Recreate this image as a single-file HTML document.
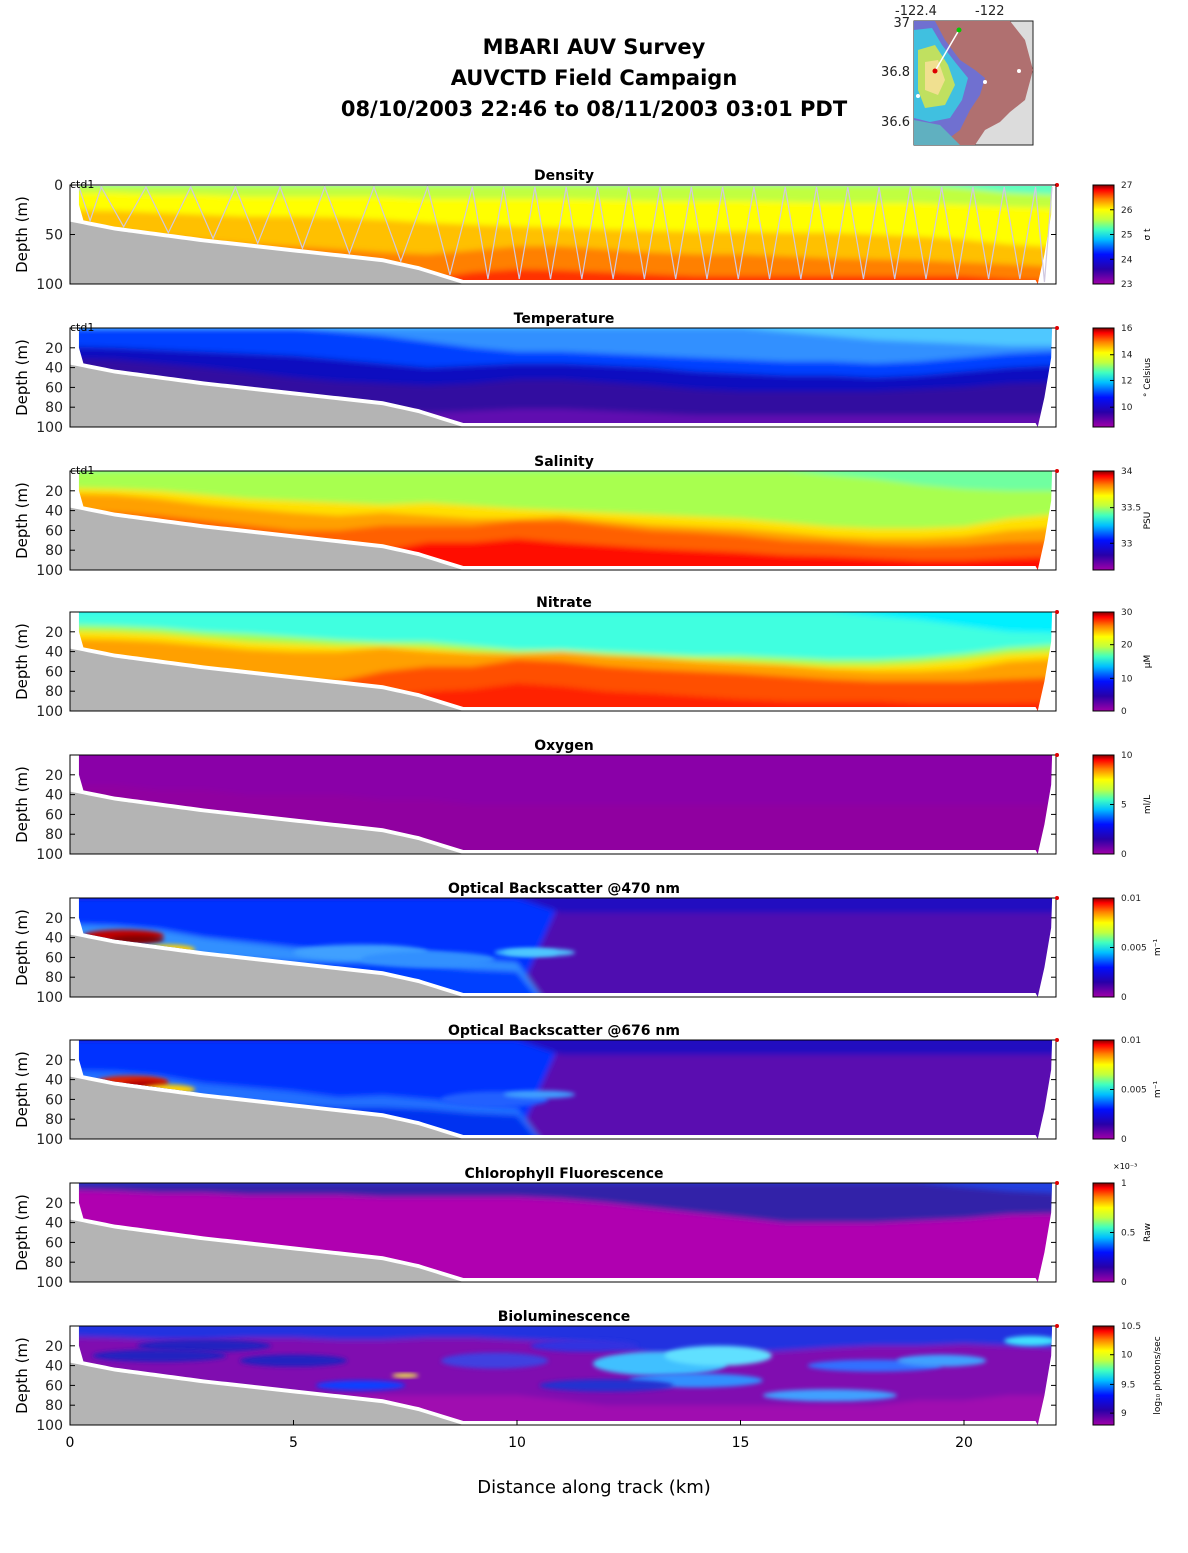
<!DOCTYPE html>
<html><head><meta charset="utf-8"><style>
body{margin:0;background:#fff;}
svg text{font-family:"DejaVu Sans","Liberation Sans",sans-serif;}
</style></head><body>
<svg id="fig" width="1188" height="1548" xmlns="http://www.w3.org/2000/svg">
<defs>
<linearGradient id="cbgrad" x1="0" y1="1" x2="0" y2="0">
<stop offset="0" stop-color="#a000a8"/><stop offset="0.15" stop-color="#2800a8"/><stop offset="0.3" stop-color="#0010ff"/><stop offset="0.45" stop-color="#00c0ff"/><stop offset="0.55" stop-color="#40ffc0"/><stop offset="0.65" stop-color="#c0ff40"/><stop offset="0.75" stop-color="#ffff00"/><stop offset="0.86" stop-color="#ff8000"/><stop offset="0.95" stop-color="#ff0000"/><stop offset="1" stop-color="#800000"/>
</linearGradient>
<filter id="blur" x="-10%" y="-10%" width="120%" height="120%"><feGaussianBlur stdDeviation="3"/></filter>
<filter id="blur2" x="-20%" y="-50%" width="140%" height="200%"><feGaussianBlur stdDeviation="2"/></filter>
</defs>
<g font-weight="bold" font-size="21" text-anchor="middle">
<text x="594" y="54">MBARI AUV Survey</text>
<text x="594" y="85">AUVCTD Field Campaign</text>
<text x="594" y="116">08/10/2003 22:46  to 08/11/2003 03:01 PDT</text>
</g>
<g id="map">
<rect x="914" y="21" width="119" height="124" fill="#dcdcdc" stroke="#222"/>
<polygon points="935,21 1010,21 1025,40 1033,70 1025,100 1010,112 1000,122 985,130 975,145 950,145 940,120 920,110 914,80 914,21" fill="#b07070"/>
<polygon points="914,21 935,21 945,40 960,60 975,70 985,78 980,95 970,110 960,130 940,145 914,145" fill="#7070d0"/>
<polygon points="914,30 932,28 942,45 955,62 968,78 962,100 950,118 930,122 914,118" fill="#40c0e0"/>
<polygon points="918,50 935,45 948,65 955,85 945,105 925,108 918,90" fill="#c0e060"/>
<polygon points="925,62 938,60 945,80 938,95 925,90" fill="#f0e090"/>
<polygon points="914,120 940,125 960,145 914,145" fill="#60b0c0"/>
<line x1="935" y1="71" x2="959" y2="30" stroke="#fff" stroke-width="1.5"/>
<circle cx="959" cy="30" r="2.5" fill="#0c0"/><circle cx="935" cy="71" r="2.5" fill="#d00"/>
<circle cx="1019" cy="71" r="2" fill="#fff"/><circle cx="985" cy="82" r="2" fill="#fff"/><circle cx="918" cy="96" r="2" fill="#fff"/>
<g font-size="13" fill="#222"><text x="895" y="15">-122.4</text><text x="975" y="15">-122</text>
<text x="910" y="27" text-anchor="end">37</text><text x="910" y="76" text-anchor="end">36.8</text><text x="910" y="126" text-anchor="end">36.6</text></g>
</g>
<g id="panels"></g>
<g id="xaxis" font-size="14" text-anchor="middle"></g>
<text x="594" y="1493" font-size="18" text-anchor="middle">Distance along track (km)</text>
</svg>
<script>
// ---- data ----
const kmGrid = [0,1,2,3,4,5,6,7,8,9,10,11,12,13,14,15,16,17,18,19,20,21,22];
const seafloorKm = [0,1,2,3,4,5,6,7,7.8,8.8,22];
const seafloorDepth = [37,46,52,58,63,68,73,78,86,100,100];
const dataTopKm = [0.2,0.3,0.4,21.97];
const dataRightKm = [21.97,21.95,21.8,21.65];
const dataRightDepth = [2,30,70,100];
const yoTopKm = [0.7,1.7,2.7,3.7,4.7,5.7,6.8,8.0,9.0,9.7,10.4,11.1,11.8,12.5,13.2,13.9,14.6,15.3,16.0,16.7,17.4,18.1,18.8,19.5,20.2,20.9,21.6];

const titles = ["Density","Temperature","Salinity","Nitrate","Oxygen","Optical Backscatter @470 nm","Optical Backscatter @676 nm","Chlorophyll Fluorescence","Bioluminescence"];
const units = ["σ t","° Celsius","PSU","μM","ml/L","m⁻¹","m⁻¹","Raw","log₁₀ photons/sec"];
const cbTicks = [["23","24","25","26","27"],["10","12","14","16"],["33","33.5","34"],["0","10","20","30"],["0","5","10"],["0","0.005","0.01"],["0","0.005","0.01"],["0","0.5","1"],["9","9.5","10","10.5"]];
const cbTickFrac = [[0,.25,.5,.75,1],[.2,.47,.73,1],[.27,.63,1],[0,.33,.67,1],[0,.5,1],[0,.5,1],[0,.5,1],[0,.5,1],[.12,.41,.71,1]];
const panelTops = [185,328,471,612,755,898,1040,1183,1326];

const layers = [
 ["#c0ff40",[["#ffff00","b",[8,8,10,10,12,12,12,12,14,14,14,14,15,16,16,16,17,18,18,18,20,22,25]],["#ffc000","b",[25,26,28,30,32,32,33,35,38,40,42,43,45,46,47,47,48,48,50,52,55,60,65]],["#ff8000","b",[45,48,52,56,60,62,65,68,70,66,62,62,65,68,70,70,72,74,75,76,78,80,85]],["#ff3000","b",[90,90,95,95,95,95,95,95,95,88,85,86,88,90,92,92,92,92,92,92,92,95,98]],["#60ffc0","t",[0,0,0,0,0,0,0,0,0,0,0,0,0,0,0,0,0,0,0,0,3,8,12]]]],
 ["#1010c0",[["#0040ff","t",[18,20,22,24,26,28,32,36,40,38,36,36,38,40,44,46,48,48,50,48,44,40,36]],["#3090ff","t",[0,0,0,0,0,0,4,8,14,20,24,24,26,28,30,32,34,34,36,34,30,26,22]],["#50c8ff","t",[0,0,0,0,0,0,0,0,0,0,0,0,0,0,0,0,4,8,12,14,16,18,18]],["#3010a0","b",[30,32,36,40,45,50,54,56,58,56,52,52,55,58,62,64,64,64,64,62,60,56,54]],["#600ab0","b",[62,64,66,68,72,74,78,82,86,84,82,82,84,86,88,88,88,88,88,88,88,88,88]]]],
 ["#a8ff50",[["#ffe000","b",[16,18,20,24,28,30,32,34,32,35,38,40,42,44,46,48,52,56,58,58,56,48,40]],["#ffa000","b",[22,24,28,34,38,42,45,42,45,48,48,46,50,54,56,58,62,66,68,68,66,60,55]],["#ff6000","b",[40,42,45,50,55,60,60,55,55,55,50,50,55,60,62,65,70,72,75,76,75,72,70]],["#ff1000","b",[70,72,75,78,80,82,84,80,72,72,68,72,75,78,80,82,85,86,88,90,90,88,85]],["#70ffa0","t",[0,0,0,0,0,0,0,0,0,0,0,0,0,0,0,0,0,4,8,14,18,20,20]]]],
 ["#40ffe0",[["#a0ff50","b",[12,14,16,20,22,25,28,30,30,34,38,38,40,42,44,44,46,48,48,46,42,36,30]],["#ffe000","b",[18,20,22,26,30,32,34,34,36,40,42,42,44,46,48,50,52,54,54,52,48,42,38]],["#ffa000","b",[26,28,30,34,38,40,40,36,40,42,42,40,44,46,50,52,54,58,60,60,58,50,45]],["#ff5000","b",[60,62,64,66,70,72,70,60,55,55,48,50,55,58,60,62,65,68,70,70,70,68,65]],["#ff2000","b",[85,85,88,90,92,92,90,85,80,78,72,75,80,82,85,88,90,90,90,92,92,92,90]],["#00f0ff","t",[0,0,0,0,0,0,0,0,0,0,0,0,0,0,0,0,0,0,4,8,14,20,22]]]],
 ["#8a00a8",[["#9000a0","b",[30,30,35,35,40,40,40,45,45,50,50,50,50,50,50,50,50,50,50,50,50,50,50]]]],
 ["#5010b0",[["#0030ff","t",[100,100,100,100,100,100,100,100,100,100,100,0,0,0,0,0,0,0,0,0,0,0,0]],["#2010c0","t",[0,0,0,0,0,0,0,0,0,0,0,15,15,15,15,15,15,15,15,15,15,15,15]],["#3090ff","b",[25,28,32,40,45,50,55,52,55,62,65,130,130,130,130,130,130,130,130,130,130,130,130]],["#0040ff","b",[40,45,52,58,62,64,65,65,68,72,74,130,130,130,130,130,130,130,130,130,130,130,130]]]],
 ["#5a10b0",[["#0030ff","t",[100,100,100,100,100,100,100,100,100,100,100,0,0,0,0,0,0,0,0,0,0,0,0]],["#2010c0","t",[0,0,0,0,0,0,0,0,0,0,0,15,15,15,15,15,15,15,15,15,15,15,15]],["#2070ff","b",[30,32,36,44,48,52,58,56,60,64,68,130,130,130,130,130,130,130,130,130,130,130,130]],["#0030f0","b",[45,48,55,60,64,66,68,68,70,74,76,130,130,130,130,130,130,130,130,130,130,130,130]]]],
 ["#b000b0",[["#3020a8","t",[6,8,10,10,12,12,12,14,14,14,14,16,20,25,30,35,40,40,40,38,36,32,30]],["#2040e0","t",[0,0,0,0,0,0,0,0,0,0,0,0,0,0,0,0,0,0,0,0,4,8,12]]]],
 ["#8010b0",[["#2030e0","t",[10,12,14,14,12,12,14,14,12,12,14,16,20,28,30,28,25,22,20,20,18,20,24]],["#a010b0","b",[70,70,70,70,70,70,70,70,70,70,70,75,80,80,80,80,80,80,80,75,75,70,70]]]]
];
const blobPanel = [5,5,5,5,6,6,6,5,5,5,6,6,8,8,8,8,8,8,8,8,8,8,8,8,8,8,8];
const blobKm =    [1.2,1.5,2.2,10.2,1.4,1.7,2.2,6.5,8.0,10.5,9.5,10.5,13.2,14.5,14.0,11.5,9.5,3,5,18,19.5,21.5,6.5,17,7.5,2,12];
const blobDepth = [38,42,52,55,42,45,50,55,62,55,60,55,38,30,55,20,35,20,35,40,35,15,60,70,50,30,60];
const blobRx =    [0.9,0.6,0.6,0.7,0.8,0.5,0.6,1.5,1.5,0.8,1.2,0.8,1.5,1.2,1.5,1.2,1.2,1.5,1.2,1.5,1.0,0.6,1.0,1.5,0.3,1.5,1.5];
const blobRy =    [6,4,5,4,6,4,5,8,8,4,8,4,12,10,7,6,8,6,6,6,6,5,5,6,2,6,6];
const blobColor = ["#c00000","#800000","#ffd000","#40c0ff","#e02000","#b00000","#ffd000","#40a0ff","#3090ff","#50c8ff","#2060ff","#40a0ff","#40c0ff","#60e0ff","#3090ff","#3030e0","#4040e0","#2020c0","#2020c0","#3070ff","#40a0ff","#40e0ff","#1040ff","#40a0ff","#ffff40","#2020c0","#2030d0"];

const NS="http://www.w3.org/2000/svg";
const X0=70, PX=44.7, X1=1056;
function xk(k){return X0+k*PX;}
function yd(p,d){return panelTops[p]+d*0.99;}
function mk(tag,attrs,parent){const e=document.createElementNS(NS,tag);for(const a in attrs)e.setAttribute(a,attrs[a]);if(parent)parent.appendChild(e);return e;}
function interp(xs,ys,x){if(x<=xs[0])return ys[0];for(let i=1;i<xs.length;i++){if(x<=xs[i]){const t=(x-xs[i-1])/(xs[i]-xs[i-1]);return ys[i-1]+t*(ys[i]-ys[i-1]);}}return ys[ys.length-1];}
function seafloor(k){return interp(seafloorKm,seafloorDepth,k);}
const root=document.getElementById('panels');
titles.forEach((t,p)=>{
  const g=mk('g',{},root);
  
  
  const top=panelTops[p], bot=yd(p,100);
  const cp=mk('clipPath',{id:'clip'+p},g);
  let pts=[];
  pts.push([xk(dataTopKm[0]),yd(p,p==0?1:0)]);
  pts.push([xk(dataTopKm[3]),yd(p,p==0?1:0)]);
  for(let i=0;i<dataRightKm.length;i++)pts.push([xk(dataRightKm[i]),yd(p,dataRightDepth[i])]);
  for(let k=21.6;k>=0.2;k-=0.1){pts.push([xk(k),yd(p,Math.min(100,seafloor(k)-4))]);}
  pts.push([xk(0.2),yd(p,20)]);
  mk('polygon',{points:pts.map(a=>a.join(',')).join(' ')},cp);
  const dg=mk('g',{'clip-path':'url(#clip'+p+')'},g);
  const inner=mk('g',{filter:'url(#blur)'},dg);
  mk('rect',{x:X0-10,y:top-10,width:X1-X0+20,height:120,fill:layers[p][0]},inner);
  layers[p][1].forEach(L=>{
    const lp=[];
    kmGrid.forEach((k,i)=>lp.push([xk(k),yd(p,Math.min(L[2][i],130))]));
    lp[0][0]=xk(-1);lp[kmGrid.length-1][0]=xk(23);
    const edge=L[1]==='b'?130:-30;
    lp.push([xk(23),yd(p,edge)]);lp.push([xk(-1),yd(p,edge)]);
    const e=mk('polygon',{points:lp.map(a=>a.join(',')).join(' '),fill:L[0]},inner);
    
    
  });
  blobPanel.forEach((bp,i)=>{
    if(bp!==p)return;
    const e=mk('ellipse',{cx:xk(blobKm[i]),cy:yd(p,blobDepth[i]),rx:blobRx[i]*PX,ry:blobRy[i],fill:blobColor[i],filter:'url(#blur2)'},dg);
    
    
  });
  const sp=[];
  for(let k=0;k<=22.001;k+=0.1)sp.push([xk(k),yd(p,seafloor(k))]);
  sp.push([xk(22),bot]);sp.push([X0,bot]);
  const sf=mk('polygon',{points:sp.map(a=>a.join(',')).join(' '),fill:'#b4b4b4'},g);
  
  
  if(p===0){
    const tp=[[xk(0.2),yd(0,2)]];
    yoTopKm.forEach((k,i)=>{
      const prev=i?yoTopKm[i-1]:0.2;const mid=(prev+k)/2;
      tp.push([xk(mid),yd(0,Math.min(100,seafloor(mid)-5))]);
      tp.push([xk(k),yd(0,2)]);
    });
    tp.push([xk(21.8),yd(0,98)]);tp.push([xk(21.97),yd(0,2)]);
    const tr=mk('polyline',{points:tp.map(a=>a.join(',')).join(' '),fill:'none',stroke:'#d0c8e0','stroke-width':1.2},g);
    
    
  }
  mk('rect',{x:X0,y:top,width:X1-X0,height:bot-top,fill:'none',stroke:'#000','stroke-width':1},g);
  mk('circle',{cx:1057,cy:top,r:2,fill:'#e00000'},g);
  if(p<3){const c=mk('text',{x:X0,y:top+3,'font-size':11},g);c.textContent='ctd1';}
  const tt=mk('text',{x:564,y:top-5,'font-size':14,'font-weight':'bold','text-anchor':'middle'},g);
  tt.textContent=t;
  
  
  const yl=mk('text',{x:27,y:(top+bot)/2,'font-size':15,'text-anchor':'middle',transform:`rotate(-90 27 ${(top+bot)/2})`},g);
  yl.textContent='Depth (m)';
  
  
  const yt=p===0?[0,50,100]:[20,40,60,80,100];
  yt.forEach(d=>{
    const y=yd(p,d);
    mk('line',{x1:X0,x2:X0+5,y1:y,y2:y,stroke:'#000'},g);
    mk('line',{x1:X1,x2:X1-5,y1:y,y2:y,stroke:'#000'},g);
    const tx=mk('text',{x:63,y:y+5,'font-size':14,'text-anchor':'end',fill:'#222'},g);tx.textContent=d;
  });
  const cb=mk('g',{},g);
  
  
  mk('rect',{x:1093,y:top,width:21,height:bot-top,fill:'url(#cbgrad)',stroke:'#000'},cb);
  cbTicks[p].forEach((s,i)=>{
    const y=bot-cbTickFrac[p][i]*(bot-top);
    mk('line',{x1:1110,x2:1114,y1:y,y2:y,stroke:'#000'},cb);
    const tx=mk('text',{x:1121,y:y+3,'font-size':9,fill:'#222'},cb);tx.textContent=s;
  });
  const ux=(p===8||p===5||p===6)?1160:1150;
  const u=mk('text',{x:ux,y:(top+bot)/2,'font-size':9,'text-anchor':'middle',transform:`rotate(-90 ${ux} ${(top+bot)/2})`},cb);
  u.textContent=units[p];
  if(p===7){const e=mk('text',{x:1113,y:top-14,'font-size':8},cb);e.textContent='×10⁻³';}
});
const xa=document.getElementById('xaxis');
[0,5,10,15,20].forEach(k=>{
  mk('line',{x1:xk(k),x2:xk(k),y1:yd(8,100),y2:yd(8,100)-5,stroke:'#000'},xa);
  const t=mk('text',{x:xk(k),y:1447},xa);t.textContent=k;
});
</script>
</body></html>
